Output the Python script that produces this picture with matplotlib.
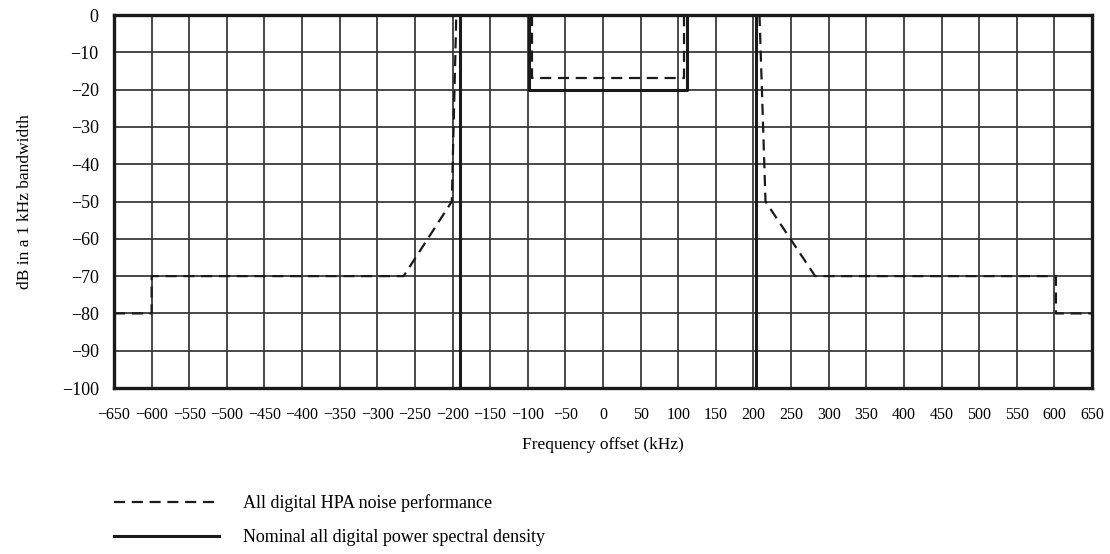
import matplotlib
matplotlib.use('Agg')
import matplotlib.pyplot as plt
from matplotlib.lines import Line2D

plt.rcParams['font.family'] = ['Liberation Serif', 'DejaVu Serif']

# HPA noise mask (dashed), kHz / dB
hpa_left_f = [-650, -600, -600, -265, -201, -195]
hpa_left_db = [-80, -80, -70, -70, -50, 0]
hpa_mid_f = [-94, -94, 108, 108]
hpa_mid_db = [0, -17, -17, 0]
hpa_right_f = [208, 216, 282, 602, 602, 650]
hpa_right_db = [0, -50, -70, -70, -80, -80]

# nominal power spectral density (solid)
psd_mid_f = [-98, -98, 112, 112]
psd_mid_db = [0, -20, -20, 0]
psd_edge_f = [-190, 204]
psd_edge_db = [0, -100]

x_ticks = list(range(-650, 651, 50))
y_ticks = list(range(-100, 1, 10))

fig = plt.figure(figsize=(11.10, 5.54), dpi=100)
ax = fig.add_axes([0.1027, 0.2996, 0.8811, 0.6733])

ax.set_xlim(-650, 650)
ax.set_ylim(-100, 0)
ax.set_xticks(x_ticks)
ax.set_yticks(y_ticks)
ax.set_xticklabels([str(t).replace('-', '\u2212') for t in x_ticks], fontsize=11.5)
ax.set_yticklabels([str(t).replace('-', '\u2212') for t in y_ticks], fontsize=13)
ax.tick_params(axis='x', length=0, pad=14)
ax.tick_params(axis='y', length=0, pad=11)
ax.grid(True, color='#3a3a3a', linewidth=1.3)
ax.set_axisbelow(True)
for s in ax.spines.values():
    s.set_linewidth(2.4)
    s.set_color('#1a1a1a')

dash = dict(color='#1a1a1a', linewidth=1.6, linestyle=(0, (5, 3)), clip_on=False)
solid = dict(color='#1a1a1a', linewidth=2.2, clip_on=False)

ax.plot(hpa_left_f, hpa_left_db, **dash)
ax.plot(hpa_mid_f, hpa_mid_db, **dash)
ax.plot(hpa_right_f, hpa_right_db, **dash)
ax.plot(psd_mid_f, psd_mid_db, **solid)
for f in psd_edge_f:
    ax.plot([f, f], psd_edge_db, **solid)

ax.set_xlabel('Frequency offset (kHz)', fontsize=12.5, labelpad=10)
ax.set_ylabel('dB in a 1 kHz bandwidth', fontsize=12.5, labelpad=21)

# legend drawn below the axes
handles = [Line2D([], [], **{k: v for k, v in dash.items() if k != 'clip_on'}),
           Line2D([], [], **{k: v for k, v in solid.items() if k != 'clip_on'})]
leg = fig.legend(handles,
                 ['All digital HPA noise performance',
                  'Nominal all digital power spectral density'],
                 loc='upper left', bbox_to_anchor=(0.0885, 0.137),
                 frameon=False, fontsize=13, handlelength=5.8,
                 handletextpad=1.3, labelspacing=0.95)

fig.savefig('out.png', dpi=100)
